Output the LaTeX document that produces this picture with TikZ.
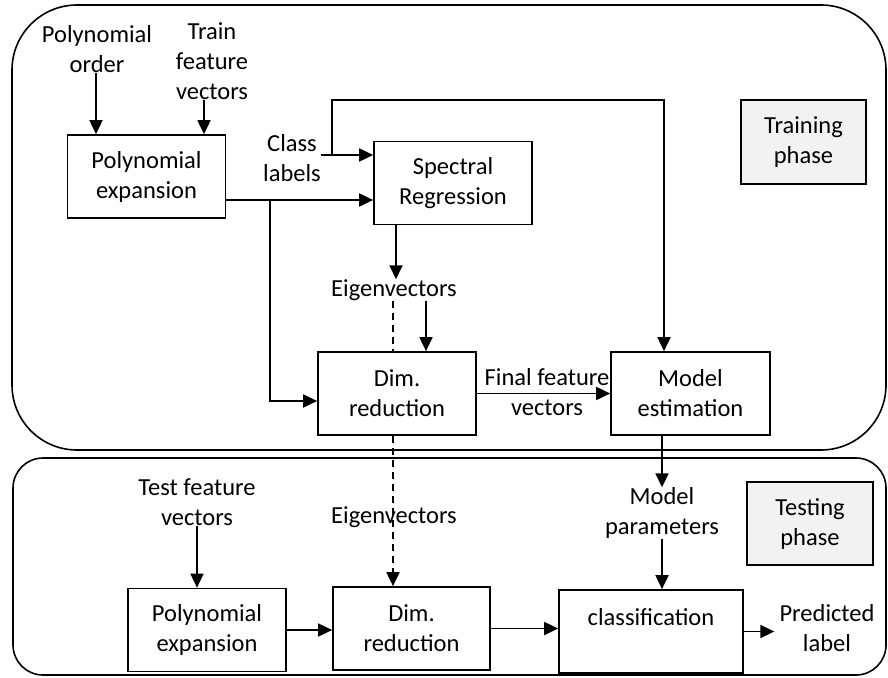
\documentclass[tikz,border=0pt]{standalone}
\usepackage{fontspec}
\setmainfont{Carlito}
\usetikzlibrary{arrows.meta}
\definecolor{phasegray}{RGB}{242,242,242}
\tikzset{
  every node/.style={font=\fontsize{24.5}{30}\selectfont, inner sep=0pt},
  blockbox/.style={draw, line width=1.7pt, fill=white, align=center,
    minimum width=#1, minimum height=83pt},
  blockbox/.default=158pt,
  phasebox/.style={draw, line width=1.7pt, fill=phasegray, align=center,
    minimum width=125pt, minimum height=84pt},
  lbl/.style={align=center},
  tip/.style={-{Triangle[length=14pt,width=13pt]}},
  arr/.style={line width=1.8pt, tip},
  dashline/.style={line width=1.8pt, dash pattern=on 7pt off 5pt},
  frame/.style={line width=1.6pt}
}
\begin{document}
\begin{tikzpicture}[x=1pt, y=-1pt]
\useasboundingbox (0,0) rectangle (888,677);

% phase frames
\draw[frame, rounded corners=65pt] (12,5) rectangle (886,450);
\draw[frame, rounded corners=30pt] (13,458) rectangle (886,675);

% training phase
\node[lbl] (polyorder) at (97,49) {Polynomial\\order};
\node[lbl] (trainfv) at (212,61) {Train\\feature\\vectors};
\node[blockbox] (pe1) at (146.5,176.5) {Polynomial\\expansion};
\node[lbl] (classlbl) at (292,158) {Class\\labels};
\node[blockbox] (sr) at (453,183) {Spectral\\Regression};
\node[lbl] (eig1) at (394,290) {Eigenvectors};
\node[blockbox] (dr1) at (397,393.5) {Dim.\\reduction};
\node[lbl] (ffv) at (547,392) {Final feature\\vectors};
\node[blockbox=159pt] (me) at (690.5,393.5) {Model\\estimation};
\node[phasebox] (trainp) at (803.5,142) {Training\\phase};

% testing phase
\node[lbl] (tfv) at (197,502) {Test feature\\vectors};
\node[blockbox] (pe2) at (207,630) {Polynomial\\expansion};
\node[lbl] (eig2) at (394,517) {Eigenvectors};
\node[blockbox=157pt] (dr2) at (411.5,628.5) {Dim.\\reduction};
\node[lbl] (mp) at (662,513) {Model\\parameters};
\node[blockbox=184pt] (cls) at (651,631.5) {classification\\\phantom{x}};
\node[lbl] (pl) at (827,628) {Predicted\\label};
\node[phasebox, minimum width=126pt, minimum height=83pt] (testp) at (810,523.5) {Testing\\phase};

% junctions and columns
\coordinate (clj) at (332,155);
\coordinate (topR) at (664,100);
\coordinate (pej) at (270,200);
\coordinate (eigx) at (396,0);
\coordinate (eigin) at (426,0);
\coordinate (dashx) at (393,0);
\coordinate (mpx) at (662,0);
\coordinate (drin) at (0,401);

% training connectors
\draw[arr] (polyorder.south -| 96,0) -- (pe1.north -| 96,0);
\draw[arr] ([xshift=-8pt]trainfv.south) -- (pe1.north -| 204,0);
\draw[arr] (classlbl.east |- clj) -- (sr.west |- clj);
\draw[arr] (clj) |- (topR) -- (topR |- me.north);
\draw[arr] (pe1.east |- pej) -- (sr.west |- pej);
\draw[arr] (pej) |- (dr1.west |- drin);
\draw[arr] (sr.south -| eigx) -- (eig1.north -| eigx);
\draw[arr] (eig1.south -| eigin) -- (dr1.north -| eigin);
\draw[dashline] (eig1.south -| dashx) -- (dr1.north -| dashx);
\draw[arr] (dr1.east) -- (me.west);

% testing connectors
\draw[dashline, tip] (dr1.south -| dashx) -- (dr2.north -| dashx);
\draw[arr] (me.south -| mpx) -- (mp.north -| mpx);
\draw[arr] (mp.south -| mpx) -- (cls.north -| mpx);
\draw[arr] (tfv.south) -- (pe2.north -| tfv.south);
\draw[arr] (pe2.east) -- (dr2.west |- pe2.east);
\draw[arr] (dr2.east) -- (cls.west |- dr2.east);
\draw[arr] (cls.east) -- ([xshift=-5pt]pl.west |- cls.east);
\end{tikzpicture}
\end{document}
